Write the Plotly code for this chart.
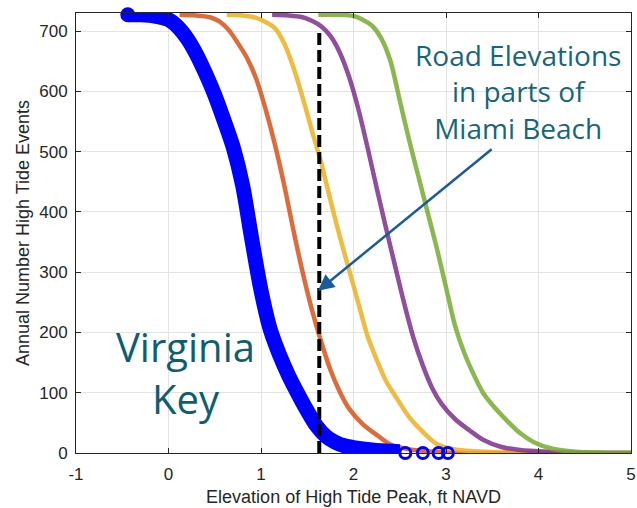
import plotly.graph_objects as go

# ---- data ----
x_ticks = [-1, 0, 1, 2, 3, 4, 5]
y_ticks = [0, 100, 200, 300, 400, 500, 600, 700]

# Virginia Key (blue, thick)
blue_x = [-0.44, -0.3, -0.15, 0.0, 0.1, 0.2, 0.3, 0.4, 0.5, 0.6, 0.7, 0.8, 0.9, 1.0, 1.1, 1.2, 1.3, 1.4, 1.5, 1.6, 1.7, 1.8, 1.9, 2.0, 2.2, 2.4, 2.5]
blue_y = [727, 727, 725, 719, 707, 688, 662, 630, 594, 552, 507, 445, 355, 270, 205, 163, 128, 98, 70, 45, 28, 18, 12, 9, 5, 3, 2]
blue_tail_x = [2.56, 2.75, 2.92, 3.02]
blue_tail_y = [0, 0, 0, 0]

orange_x = [0.12, 0.3, 0.45, 0.55, 0.65, 0.75, 0.85, 0.95, 1.05, 1.15, 1.25, 1.35, 1.45, 1.55, 1.65, 1.75, 1.85, 1.95, 2.1, 2.25, 2.4, 2.6, 2.8, 3.0, 3.3, 5.0]
orange_y = [727, 726, 723, 716, 702, 680, 655, 620, 570, 512, 445, 370, 300, 238, 185, 138, 102, 74, 48, 30, 14, 6, 3, 1, 0, 0]

yellow_x = [0.63, 0.8, 0.95, 1.05, 1.15, 1.25, 1.35, 1.45, 1.55, 1.65, 1.75, 1.85, 1.95, 2.05, 2.15, 2.25, 2.35, 2.45, 2.6, 2.75, 2.9, 3.1, 3.3, 3.6, 4.0, 5.0]
yellow_y = [727, 726, 722, 715, 705, 680, 640, 590, 535, 482, 420, 360, 305, 250, 195, 155, 120, 95, 60, 35, 15, 6, 3, 1, 0, 0]

purple_x = [1.12, 1.3, 1.45, 1.55, 1.65, 1.75, 1.85, 1.95, 2.05, 2.15, 2.25, 2.35, 2.45, 2.55, 2.65, 2.75, 2.85, 2.95, 3.1, 3.25, 3.4, 3.6, 3.8, 4.1, 4.5, 5.0]
purple_y = [727, 726, 723, 717, 708, 692, 665, 625, 572, 508, 440, 374, 310, 247, 190, 145, 108, 82, 56, 38, 22, 10, 5, 2, 0, 0]

green_x = [1.62, 1.85, 2.0, 2.1, 2.2, 2.3, 2.4, 2.5, 2.6, 2.7, 2.8, 2.9, 3.0, 3.1, 3.2, 3.3, 3.4, 3.5, 3.65, 3.8, 3.95, 4.15, 4.4, 4.7, 5.0]
green_y = [727, 727, 725, 719, 709, 688, 650, 585, 520, 460, 400, 340, 275, 210, 165, 130, 100, 80, 55, 33, 18, 7, 2, 0.5, 0]

road_elevation = 1.63
road_top = 705

arrow_tip = (1.616, 269)
arrow_tail = (3.51, 506)

road_label = "Road Elevations<br>in parts of<br>Miami Beach"
road_label_pos = (3.78, 599)
site_label = "Virginia<br>Key"
site_label_pos = (0.18, 133)

x_title = "Elevation of High Tide Peak, ft NAVD"
y_title = "Annual Number High Tide Events"

# ---- figure ----
fig = go.Figure()

for xs, ys, col in [(orange_x, orange_y, "#D95319"),
                    (yellow_x, yellow_y, "#EDB120"),
                    (purple_x, purple_y, "#7E2F8E"),
                    (green_x, green_y, "#77AC30")]:
    fig.add_trace(go.Scatter(x=xs, y=ys, mode="lines",
                             line=dict(color=col, width=4.5, shape="spline", smoothing=0.8),
                             opacity=0.85, hoverinfo="skip", showlegend=False))

fig.add_trace(go.Scatter(x=blue_x, y=blue_y, mode="lines",
                         line=dict(color="#0000FF", width=15, shape="spline", smoothing=0.8),
                         cliponaxis=False, showlegend=False))
fig.add_trace(go.Scatter(x=blue_x[:1], y=blue_y[:1], mode="markers",
                         marker=dict(color="#0000FF", size=15, symbol="circle"),
                         cliponaxis=False, showlegend=False))
fig.add_trace(go.Scatter(x=blue_tail_x, y=blue_tail_y, mode="markers",
                         marker=dict(color="#0000FF", size=11, symbol="circle-open",
                                     line=dict(width=3, color="#0000FF")),
                         cliponaxis=False, showlegend=False))

fig.add_shape(type="line", xref="x", yref="y",
              x0=road_elevation, x1=road_elevation, y0=0, y1=road_top,
              line=dict(color="black", width=4, dash="12px,5px"), layer="above")

fig.add_annotation(x=road_label_pos[0], y=road_label_pos[1], text=road_label,
                   showarrow=False, xanchor="center", yanchor="middle",
                   font=dict(family="Open Sans", size=28, color="#14677A"))
fig.add_annotation(x=site_label_pos[0], y=site_label_pos[1], text=site_label,
                   showarrow=False, xanchor="center", yanchor="middle",
                   font=dict(family="Open Sans", size=40, color="#0F5E70"))
fig.add_annotation(x=arrow_tip[0], y=arrow_tip[1], ax=arrow_tail[0], ay=arrow_tail[1],
                   axref="x", ayref="y", xref="x", yref="y", text="",
                   showarrow=True, arrowhead=2, arrowsize=1.3, arrowwidth=2.5,
                   arrowcolor="#1A5C9A")

axis_common = dict(showline=True, linecolor="#262626", linewidth=1, mirror="ticks",
                   ticks="inside", ticklen=5, tickcolor="#262626", automargin=False,
                   showgrid=True, gridcolor="#E3E3E3", gridwidth=1, zeroline=False,
                   tickfont=dict(family="Liberation Sans", size=17, color="#262626"))

fig.update_xaxes(range=[-1, 5], tickvals=x_ticks, ticktext=[str(v) for v in x_ticks],
                 ticklabelstandoff=6,
                 title=dict(text=x_title, font=dict(family="Liberation Sans", size=18, color="#262626"), standoff=6),
                 **axis_common)
fig.update_yaxes(range=[0, 730], tickvals=y_ticks, ticktext=[str(v) for v in y_ticks],
                 ticklabelstandoff=4,
                 title=dict(text=y_title, font=dict(family="Liberation Sans", size=18, color="#262626"), standoff=4),
                 **axis_common)

fig.update_layout(width=637, height=508, margin=dict(l=76, r=6, t=13, b=55),
                  paper_bgcolor="white", plot_bgcolor="white", showlegend=False)

fig.write_html("out.html")
